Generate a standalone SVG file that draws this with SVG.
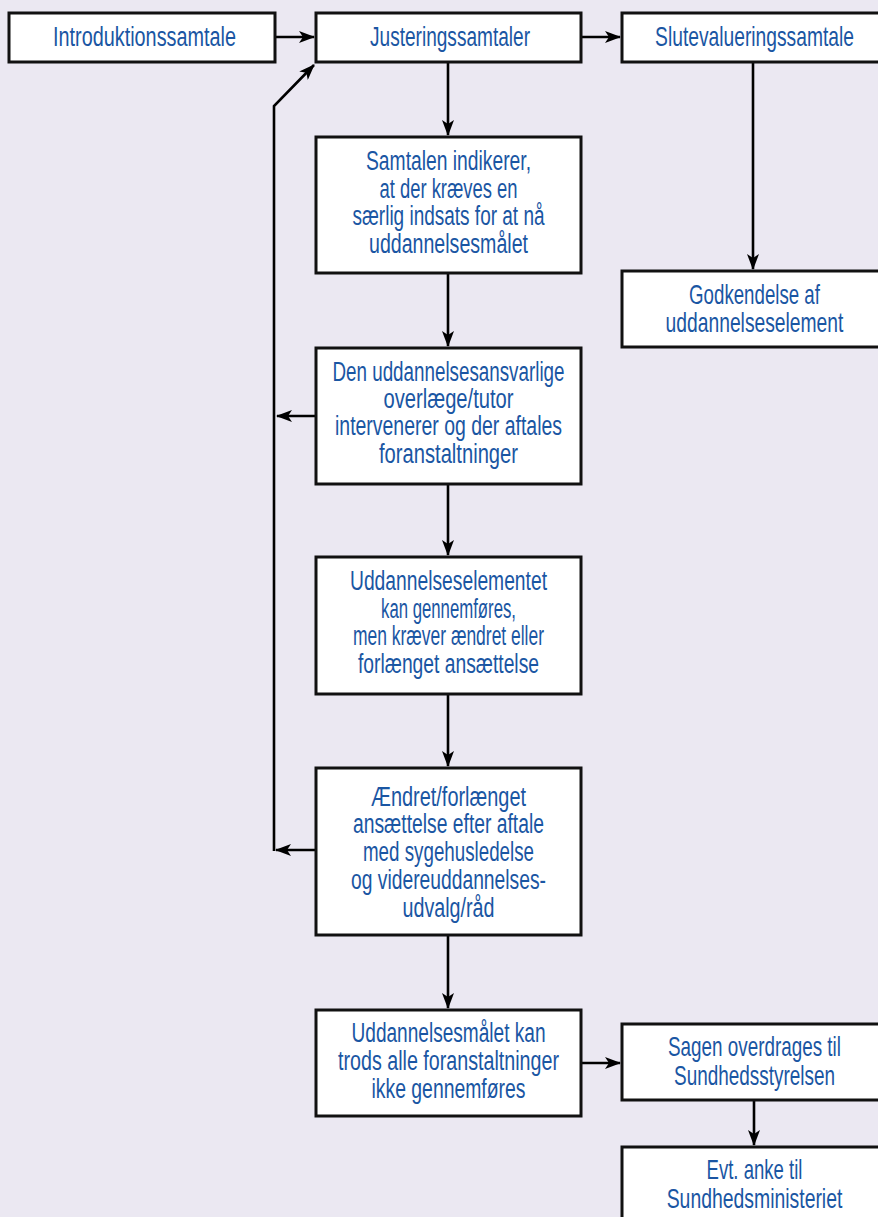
<svg xmlns="http://www.w3.org/2000/svg" width="878" height="1217" viewBox="0 0 878 1217">
<style>
.box{fill:#ffffff;stroke:#111111;stroke-width:3}
.t{font-family:"Liberation Sans",Arial,sans-serif;font-size:27px;fill:#1a56a3;text-anchor:middle}
.c{fill:none;stroke:#000000;stroke-width:2.6}
</style>
<defs>
<marker id="ah" markerUnits="userSpaceOnUse" markerWidth="16" markerHeight="12" viewBox="0 0 16 12" refX="15" refY="6" orient="auto">
<path d="M0,0 L16,6 L0,12 L4,6 Z" fill="#000000"/>
</marker>
</defs>
<rect width="878" height="1217" fill="#ebe8f2"/>

<g id="connectors">
<path class="c" d="M275,37 H314" marker-end="url(#ah)"/>
<path class="c" d="M581,37 H620" marker-end="url(#ah)"/>
<path class="c" d="M448,62 V135" marker-end="url(#ah)"/>
<path class="c" d="M753,62 V269" marker-end="url(#ah)"/>
<path class="c" d="M448,273 V346" marker-end="url(#ah)"/>
<path class="c" d="M448,484 V555" marker-end="url(#ah)"/>
<path class="c" d="M448,694 V766" marker-end="url(#ah)"/>
<path class="c" d="M448,935 V1008" marker-end="url(#ah)"/>
<path class="c" d="M316,416 H277" marker-end="url(#ah)"/>
<path class="c" d="M316,850 H276" marker-end="url(#ah)"/>
<path class="c" d="M274,851 V106 L314,65" marker-end="url(#ah)"/>
<path class="c" d="M581,1063 H620" marker-end="url(#ah)"/>
<path class="c" d="M754,1100 V1145" marker-end="url(#ah)"/>
</g>

<g id="n1">
<rect class="box" x="9" y="13" width="266" height="49"/>
<text class="t" x="144.5" y="46" textLength="183" lengthAdjust="spacingAndGlyphs">Introduktionssamtale</text>
</g>
<g id="n2">
<rect class="box" x="316" y="13" width="265" height="49"/>
<text class="t" x="450" y="46" textLength="160" lengthAdjust="spacingAndGlyphs">Justeringssamtaler</text>
</g>
<g id="n3">
<rect class="box" x="622" y="13" width="257.5" height="49"/>
<g transform="translate(754.5,0) scale(0.7,1)">
<text class="t" x="0" y="46" textLength="284" lengthAdjust="spacingAndGlyphs">Slutevalueringssamtale</text>
</g>
</g>
<g id="n4">
<rect class="box" x="316" y="137" width="265" height="136"/>
<text class="t" x="448.5" y="170" textLength="165" lengthAdjust="spacingAndGlyphs">Samtalen indikerer,</text>
<text class="t" x="448.5" y="198" textLength="138" lengthAdjust="spacingAndGlyphs">at der kræves en</text>
<text class="t" x="448.5" y="225" textLength="192" lengthAdjust="spacingAndGlyphs">særlig indsats for at nå</text>
<text class="t" x="448.5" y="253" textLength="159" lengthAdjust="spacingAndGlyphs">uddannelsesmålet</text>
</g>
<g id="n5">
<rect class="box" x="622" y="271" width="257.5" height="76"/>
<g transform="translate(754.5,0) scale(0.7,1)">
<text class="t" x="0" y="304" textLength="187" lengthAdjust="spacingAndGlyphs">Godkendelse af</text>
<text class="t" x="0" y="332" textLength="254" lengthAdjust="spacingAndGlyphs">uddannelseselement</text>
</g>
</g>
<g id="n6">
<rect class="box" x="316" y="348" width="265" height="136"/>
<text class="t" x="448.5" y="381" textLength="232" lengthAdjust="spacingAndGlyphs">Den uddannelsesansvarlige</text>
<text class="t" x="448.5" y="408" textLength="130" lengthAdjust="spacingAndGlyphs">overlæge/tutor</text>
<text class="t" x="448.5" y="435" textLength="227" lengthAdjust="spacingAndGlyphs">intervenerer og der aftales</text>
<text class="t" x="448.5" y="463" textLength="139" lengthAdjust="spacingAndGlyphs">foranstaltninger</text>
</g>
<g id="n7">
<rect class="box" x="316" y="557" width="265" height="137"/>
<text class="t" x="448.5" y="590" textLength="197" lengthAdjust="spacingAndGlyphs">Uddannelseselementet</text>
<text class="t" x="448.5" y="618" textLength="135" lengthAdjust="spacingAndGlyphs">kan gennemføres,</text>
<text class="t" x="448.5" y="645" textLength="191" lengthAdjust="spacingAndGlyphs">men kræver ændret eller</text>
<text class="t" x="448.5" y="673" textLength="181" lengthAdjust="spacingAndGlyphs">forlænget ansættelse</text>
</g>
<g id="n8">
<rect class="box" x="316" y="768" width="265" height="167"/>
<text class="t" x="448.5" y="806" textLength="155" lengthAdjust="spacingAndGlyphs">Ændret/forlænget</text>
<text class="t" x="448.5" y="833" textLength="191" lengthAdjust="spacingAndGlyphs">ansættelse efter aftale</text>
<text class="t" x="448.5" y="861" textLength="171" lengthAdjust="spacingAndGlyphs">med sygehusledelse</text>
<text class="t" x="448.5" y="889" textLength="195" lengthAdjust="spacingAndGlyphs">og videreuddannelses-</text>
<text class="t" x="448.5" y="917" textLength="92" lengthAdjust="spacingAndGlyphs">udvalg/råd</text>
</g>
<g id="n9">
<rect class="box" x="316" y="1010" width="265" height="106"/>
<text class="t" x="448.5" y="1042" textLength="194" lengthAdjust="spacingAndGlyphs">Uddannelsesmålet kan</text>
<text class="t" x="448.5" y="1070" textLength="221" lengthAdjust="spacingAndGlyphs">trods alle foranstaltninger</text>
<text class="t" x="448.5" y="1098" textLength="154" lengthAdjust="spacingAndGlyphs">ikke gennemføres</text>
</g>
<g id="n10">
<rect class="box" x="622" y="1024" width="257.5" height="76"/>
<g transform="translate(754.5,0) scale(0.7,1)">
<text class="t" x="0" y="1056" textLength="247" lengthAdjust="spacingAndGlyphs">Sagen overdrages til</text>
<text class="t" x="0" y="1085" textLength="230" lengthAdjust="spacingAndGlyphs">Sundhedsstyrelsen</text>
</g>
</g>
<g id="n11">
<rect class="box" x="622" y="1147" width="257.5" height="85"/>
<g transform="translate(754.5,0) scale(0.7,1)">
<text class="t" x="0" y="1179" textLength="137" lengthAdjust="spacingAndGlyphs">Evt. anke til</text>
<text class="t" x="0" y="1208" textLength="251" lengthAdjust="spacingAndGlyphs">Sundhedsministeriet</text>
</g>
</g>
</svg>
